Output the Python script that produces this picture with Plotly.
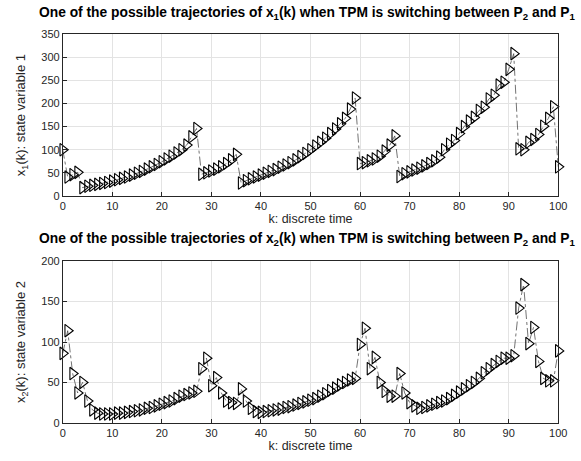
import plotly.graph_objects as go

k = list(range(101))

x1 = [100, 41, 46, 51, 18, 21, 23, 25, 27, 29,
      32, 35, 38, 41, 45, 49, 53, 58, 63, 68,
      74, 80, 86, 93, 100, 110, 128, 146, 47, 50,
      54, 58, 63, 70, 78, 90, 28, 33, 37, 41,
      45, 49, 53, 57, 62, 67, 72, 78, 85, 92,
      100, 108, 116, 125, 135, 145, 156, 168, 188, 212,
      70, 72, 76, 80, 86, 97, 110, 130, 42, 48,
      52, 56, 60, 65, 70, 76, 84, 100, 112, 120,
      135, 150, 162, 170, 185, 192, 210, 218, 240, 246,
      274, 308, 102, 100, 116, 122, 133, 151, 168, 193,
      63]

x2 = [86, 114, 61, 37, 50, 27, 16, 12, 11, 11,
      11, 12, 12, 13, 14, 15, 16, 18, 19, 21,
      23, 25, 27, 30, 33, 35, 37, 39, 67, 80,
      46, 56, 37, 27, 25, 24, 42, 27, 18, 14,
      13, 14, 15, 16, 17, 19, 20, 22, 24, 26,
      28, 30, 33, 36, 40, 43, 47, 50, 53, 55,
      97, 117, 67, 81, 50, 39, 33, 33, 61, 37,
      25, 21, 18, 19, 21, 23, 25, 27, 30, 34,
      38, 42, 46, 50, 55, 62, 67, 72, 76, 80,
      80, 83, 142, 171, 98, 118, 76, 55, 52, 52,
      89]

x_ticks = [0, 10, 20, 30, 40, 50, 60, 70, 80, 90, 100]
y1_ticks = [0, 50, 100, 150, 200, 250, 300, 350]
y2_ticks = [0, 50, 100, 150, 200]

title1 = "<b>One of the possible trajectories of x<sub>1</sub>(k) when TPM is switching between P<sub>2</sub> and P<sub>1</sub></b>"
title2 = "<b>One of the possible trajectories of x<sub>2</sub>(k) when TPM is switching between P<sub>2</sub> and P<sub>1</sub></b>"

FONT = "Liberation Sans, Arial, Helvetica, sans-serif"
W, H = 581, 461

def line_trace(y, xa, ya):
    return go.Scatter(
        x=k, y=y, xaxis=xa, yaxis=ya, mode="lines+markers",
        line=dict(color="rgba(60,60,60,0.9)", width=0.8, dash="dashdot"),
        marker=dict(symbol="triangle-right-open", size=11,
                    color="black", line=dict(color="black", width=1.1)),
        cliponaxis=False, showlegend=False, hoverinfo="x+y")

fig = go.Figure()
fig.add_trace(line_trace(x1, "x", "y"))
fig.add_trace(line_trace(x2, "x2", "y2"))

xd = [61 / W, 567 / W]
y1d = [1 - 195 / H, 1 - 29 / H]
y2d = [1 - 428 / H, 1 - 262 / H]

axis_common = dict(
    showline=True, linecolor="#262626", linewidth=0.8, mirror=True,
    showgrid=True, gridcolor="#e3e3e3", gridwidth=1,
    ticks="inside", ticklen=4, tickcolor="#262626", tickwidth=0.8,
    tickfont=dict(family=FONT, size=11, color="#262626"),
    zeroline=False,
)

fig.update_layout(
    width=W, height=H,
    margin=dict(l=0, r=0, t=0, b=0),
    paper_bgcolor="white", plot_bgcolor="white",
    font=dict(family=FONT, color="#262626"),
    xaxis=dict(domain=xd, range=[0, 100], tickvals=x_ticks, anchor="y",
               title=dict(text="k: discrete time", font=dict(size=12.5, family=FONT), standoff=2),
               **axis_common),
    yaxis=dict(domain=y1d, range=[0, 350], tickvals=y1_ticks, anchor="x",
               title=dict(text="x<sub>1</sub>(k): state variable 1", font=dict(size=13, family=FONT), standoff=12),
               **axis_common),
    xaxis2=dict(domain=xd, range=[0, 100], tickvals=x_ticks, anchor="y2",
                title=dict(text="k: discrete time", font=dict(size=12.5, family=FONT), standoff=2),
                **axis_common),
    yaxis2=dict(domain=y2d, range=[0, 200], tickvals=y2_ticks, anchor="x2",
                title=dict(text="x<sub>2</sub>(k): state variable 2", font=dict(size=13, family=FONT), standoff=12),
                **axis_common),
    annotations=[
        dict(text=title1, xref="paper", yref="paper", x=311 / W, y=1 - 18 / H,
             xanchor="center", yanchor="bottom", showarrow=False,
             font=dict(family=FONT, size=13.8, color="black")),
        dict(text=title2, xref="paper", yref="paper", x=311 / W, y=1 - 251 / H,
             xanchor="center", yanchor="bottom", showarrow=False,
             font=dict(family=FONT, size=13.8, color="black")),
    ],
)

fig.write_html("out.html", config={"displayModeBar": False},
               post_script="document.body.style.margin='0';document.body.style.padding='0';")
